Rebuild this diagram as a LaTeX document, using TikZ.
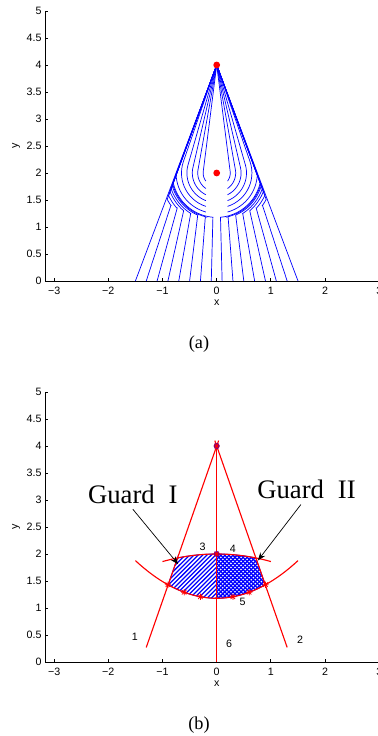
\documentclass[tikz,border=0pt]{standalone}
\usepackage{fontspec}
\setmainfont{Liberation Serif}
\setsansfont{Liberation Sans}
\usetikzlibrary{arrows.meta}

% axes of one panel, #1 = prefix for the node names
\newcommand{\plotaxes}[1]{%
  \draw[axisline] (-3.162,5) -- (-3.162,0) -- (3.3,0);
  \foreach \t in {-3,...,3} \draw[axisline] (\t,0) -- ++(0,0.055);
  \foreach \t in {0,0.5,1,1.5,2,2.5,3,3.5,4,4.5,5} {
    \draw[axisline] (-3.162,\t) -- ++(0.055,0);
    \node[ticklab, anchor=east] (#1y\t) at (-3.228,\t) {\t};
  }
  \foreach \t/\lab in {-3/−3,-2/−2,-1/−1,0/0,1/1,2/2,3/3}
    \node[ticklab] (#1x\t) at (\t,-0.18) {\lab};
  \node[ticklab] (#1xlab) at (0,-0.41) {x};
  \node[ticklab, rotate=90] (#1ylab) at (-3.70,2.5) {y};
}

\begin{document}
\begin{tikzpicture}[
  axisline/.style={black, line width=0.6pt},
  ticklab/.style={font=\sffamily\fontsize{7.6}{9}\selectfont, inner sep=0pt},
  traj/.style={blue, line width=0.5pt},
  redcurve/.style={red, line width=0.8pt},
  hatchline/.style={blue, line width=0.9pt},
  crossline/.style={blue, line width=0.9pt},
  guardlab/.style={font=\fontsize{19}{22}\selectfont, inner sep=4pt},
  guardarrow/.style={-{Stealth[length=2mm, width=1.5mm]}, line width=0.5pt},
  caption/.style={font=\fontsize{13}{15}\selectfont},
  redstar/.pic={\draw[red, line width=0.5pt] (-2.2pt,0) -- (2.2pt,0) (0,-2.2pt) -- (0,2.2pt)
    (-1.6pt,-1.6pt) -- (1.6pt,1.6pt) (-1.6pt,1.6pt) -- (1.6pt,-1.6pt);}
]
\useasboundingbox (0,0) rectangle (9.45,18.4);

% panel (a)
\begin{scope}[shift={(5.4175cm,11.375cm)}, x=1.355cm, y=1.35cm]
  \plotaxes{a}
  \foreach \s in {1,-1} {
    \begin{scope}[xscale=\s]
      \draw[traj] (-1.5,0) -- (0,4);
      % from the ground line up to the lower guard, round it, then to the top
      \foreach \xo/\px/\py/\r/\ta/\tb in {-1.3/-0.845/1.40/1.036/215.4/208.2,
          -1.1/-0.73/1.345/0.981/221.9/205.1, -0.9/-0.61/1.30/0.928/228.9/201.7,
          -0.7/-0.48/1.25/0.89/237.4/198.7, -0.5/-0.35/1.22/0.855/245.8/195.8,
          -0.3/-0.21/1.19/0.837/255.5/194, -0.1/-0.07/1.18/0.823/265.1/193}
        \draw[traj] (\xo,0) -- (\px,\py) -- plot[domain=\ta:\tb, samples=14]
          ({\r*cos(\x)},{2+\r*sin(\x)}) -- (0,4);
      % inner arcs round the point (0,2)
      \foreach \r/\ta/\tb in {0.25/216.9/172.8, 0.35/235.2/170.1, 0.45/243.6/167.0,
          0.55/248.7/164.0, 0.65/252.1/161.0, 0.75/254.5/181.5}
        \draw[traj] plot[domain=\ta:\tb, samples=16] ({\r*cos(\x)},{2+\r*sin(\x)}) -- (0,4);
    \end{scope}
  }
  \fill[red] (0,4) circle (0.085cm);
  \fill[red] (0,2) circle (0.085cm);
\end{scope}
\node[caption] (capA) at (4.975,9.8) {(a)};

% panel (b)
\begin{scope}[shift={(5.4175cm,1.85cm)}, x=1.355cm, y=1.35cm]
  \plotaxes{b}
  % Guard I: hatched half
  \begin{scope}
    \clip (0,2) -- plot[domain=0:-0.724, samples=12] (\x,{2-0.14*\x*\x}) -- (-0.896,1.431)
      -- plot[domain=-0.896:0, samples=12] (\x,{1.18+0.31*\x*\x}) -- cycle;
    \foreach \k in {0,...,22}
      \draw[hatchline] (-1.8+\k*0.08,1) -- ++(1.2,1.2);
  \end{scope}
  % Guard II: cross-hatched half
  \begin{scope}
    \clip (0,2) -- plot[domain=0:0.724, samples=12] (\x,{2-0.14*\x*\x}) -- (0.896,1.431)
      -- plot[domain=0.896:0, samples=12] (\x,{1.18+0.31*\x*\x}) -- cycle;
    \foreach \k in {0,...,26} {
      \draw[crossline] (-0.9+\k*0.075,1) -- ++(1.2,1.2);
      \draw[crossline] (0+\k*0.075,1) -- ++(-1.2,1.2);
    }
  \end{scope}
  \draw[blue, line width=0.6pt] (-0.724,1.927) -- plot[domain=-0.724:0.724, samples=20] (\x,{2-0.14*\x*\x})
    -- (0.896,1.431) -- plot[domain=0.896:-0.896, samples=24] (\x,{1.18+0.31*\x*\x}) -- cycle;
  \draw[blue, line width=0.6pt] (0,2) -- (0,1.18);

  \coordinate (oneBot) at (-1.3,0.27);
  \coordinate (oneTop) at (0.035,4.1);
  \coordinate (twoBot) at (1.3,0.27);
  \coordinate (twoTop) at (-0.035,4.1);
  \coordinate (sixBot) at (0,0);
  \coordinate (sixTop) at (0,4);
  \draw[redcurve] (oneBot) -- (oneTop);
  \draw[redcurve] (twoBot) -- (twoTop);
  \draw[red, line width=0.5pt] (sixBot) -- (sixTop);
  \draw[redcurve] plot[domain=-1.5:1.5, samples=40] (\x,{1.18+0.31*\x*\x});
  \draw[redcurve] plot[domain=-1:1, samples=30] (\x,{2-0.14*\x*\x});

  \foreach \mx in {-0.9,-0.6,-0.3,0.3,0.6,0.9}
    \pic at (\mx,{1.18+0.31*\mx*\mx}) {redstar};
  \fill[blue!80!red] (0,4) circle (0.075cm);
  \fill[blue!80!red] (0,2) circle (0.075cm);
  \pic at (0,4) {redstar};
  \pic at (0,2) {redstar};

  \node[ticklab] (lab1) at (-1.51,0.47) {1};
  \node[ticklab] (lab2) at (1.54,0.42) {2};
  \node[ticklab] (lab3) at (-0.26,2.14) {3};
  \node[ticklab] (lab4) at (0.30,2.09) {4};
  \node[ticklab] (lab5) at (0.48,1.12) {5};
  \node[ticklab] (lab6) at (0.23,0.33) {6};

  \node[guardlab, anchor=base] (guardI) at (-1.548,2.944) {Guard\hspace{0.27em} I};
  \node[guardlab, anchor=base] (guardII) at (1.657,3.03) {Guard\hspace{0.27em} II};
  \coordinate (tipI) at (-0.71,1.81);
  \coordinate (tipII) at (0.76,1.88);
  \draw[guardarrow] (guardI.south) -- (tipI);
  \draw[guardarrow] ([xshift=-4pt]guardII.south) -- (tipII);
\end{scope}
\node[caption] (capB) at (4.975,0.275) {(b)};
\end{tikzpicture}
\end{document}
